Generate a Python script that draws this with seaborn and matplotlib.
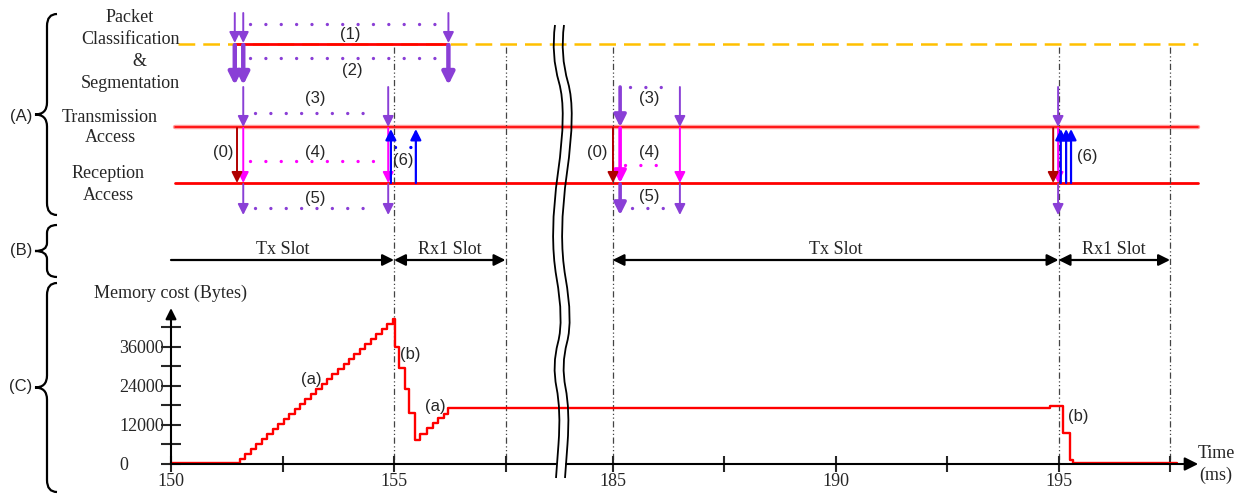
import numpy as np
import pandas as pd
import matplotlib
matplotlib.use("Agg")
import matplotlib.pyplot as plt
from matplotlib.path import Path
from matplotlib.patches import PathPatch
import seaborn as sns

# ---- values ----
# memory cost staircase (ms, bytes), left and right of the time-axis break
mem_left_ms = [150.00, 151.55, 151.67, 151.79, 151.91, 152.04, 152.16, 152.28, 152.40,
               152.53, 152.65, 152.77, 152.89, 153.01, 153.14, 153.26, 153.38, 153.50,
               153.62, 153.75, 153.87, 153.99, 154.11, 154.23, 154.36, 154.48, 154.60,
               154.72, 154.85, 154.97, 155.02, 155.12, 155.25, 155.34, 155.46, 155.58,
               155.73, 155.87, 155.99, 156.11, 156.20, 158.65]
mem_left_bytes = [400, 1500, 3100, 4600, 6100, 7700, 9200, 10700, 12300,
                  13800, 15300, 16900, 18400, 19900, 21500, 23000, 24500, 26100,
                  27600, 29200, 30700, 32200, 33700, 35300, 36800, 38300, 39900,
                  41400, 42900, 44400, 36000, 29300, 22900, 15500, 7400, 9200,
                  10900, 12500, 14000, 15300, 17300, 17300]
mem_right_ms = [183.75, 194.80, 195.10, 195.25, 195.33, 197.65]
mem_right_bytes = [17300, 17900, 9400, 1200, 300, 300]

# event times (ms)
pcs_in = [151.43, 151.62, 156.22]          # packets entering classification
tx_req = [151.62, 154.87, 185.17, 186.51, 194.99]
tx_start = [151.48, 185.01, 194.88]        # (0)
rx_ack = [154.93, 155.49, 195.05, 195.17, 195.28]  # (6)

slot_names = ["Tx Slot", "Rx1 Slot", "Tx Slot", "Rx1 Slot"]
slot_start = [150.0, 155.0, 185.0, 195.0]
slot_end = [155.0, 157.5, 195.0, 197.5]

xtick_ms = [150, 152.5, 155, 157.5, 185, 187.5, 190, 192.5, 195, 197.5]
xtick_labels = ["150", "", "155", "", "185", "", "190", "", "195", ""]
ytick_vals = [0, 6000, 12000, 18000, 24000, 30000, 36000, 42000]
ytick_labels = ["0", "", "12000", "", "24000", "", "36000", ""]

# ---- layout ----
PX_MS = 44.6          # pixels per ms
X0 = 171              # pixel of 150 ms
HIDDEN = 175.1        # ms skipped by the break
GAP = (8.63, 8.86)    # axis gap (axis units)
BYTES_PX = 306.6
Y_ZERO = 464

PURPLE = "#8A3FD6"
MAGENTA = "#FF00FF"
DARKRED = "#B00000"
BLUE = "#0000FF"
RED = "#FF0000"
ORANGE = "#FFC000"
SANS = "Liberation Sans"


def to_u(t):
    t = np.asarray(t, dtype=float)
    return np.where(t < 170, t - 150.0, t - HIDDEN)


def varrow(ax, t, y0, y1, color, lw=1.4, ms=16):
    x = float(to_u(t))
    ax.annotate("", xy=(x, y1), xytext=(x, y0),
                arrowprops=dict(arrowstyle="-|>", color=color, lw=lw,
                                mutation_scale=ms, shrinkA=0, shrinkB=0))


def dots(ax, t0, t1, y, color):
    ax.plot(to_u([t0, t1]), [y, y], color=color, lw=2.4,
            linestyle=(0, (0.01, 4.6)), dash_capstyle="round")


def brace(ax, top, bottom, r):
    xt, xm, xe = 35, 47, 57
    mid = (top + bottom) / 2
    verts = [(xe, top), (xm, top), (xm, top + r), (xm, mid - r),
             (xm, mid), (xt, mid), (xm, mid), (xm, mid + r),
             (xm, bottom - r), (xm, bottom), (xe, bottom)]
    codes = [Path.MOVETO, Path.CURVE3, Path.CURVE3, Path.LINETO,
             Path.CURVE3, Path.CURVE3, Path.CURVE3, Path.CURVE3,
             Path.LINETO, Path.CURVE3, Path.CURVE3]
    ax.add_patch(PathPatch(Path(verts, codes), fill=False, lw=1.6, color="black"))


def wavy(ax, pts):
    verts = [pts[0]]
    codes = [Path.MOVETO]
    for i in range(1, len(pts) - 1):
        nxt = ((pts[i][0] + pts[i + 1][0]) / 2, (pts[i][1] + pts[i + 1][1]) / 2)
        verts += [pts[i], nxt]
        codes += [Path.CURVE3, Path.CURVE3]
    verts.append(pts[-1])
    codes.append(Path.LINETO)
    ax.add_patch(PathPatch(Path(verts, codes), fill=False, lw=1.3, color="black"))


sns.set_style("ticks")
plt.rcParams["font.family"] = ["Liberation Serif", "DejaVu Serif"]

fig = plt.figure(figsize=(12.44, 4.96), dpi=100)
xlim = (-X0 / PX_MS, (1244 - X0) / PX_MS)

top = fig.add_axes([0, 0, 1, 1])
top.set_xlim(*xlim)
top.set_ylim(496, 0)
top.axis("off")

mem = fig.add_axes([0, 0, 1, 1])
mem.patch.set_visible(False)
deco = fig.add_axes([0, 0, 1, 1])
deco.set_xlim(0, 1244)
deco.set_ylim(496, 0)
deco.axis("off")

# ---- (A) schematic ----
top.plot([0.16, 23.03], [44, 44], color=ORANGE, lw=1.8, linestyle=(0, (6.7, 3.2)))
top.plot(to_u([pcs_in[0], pcs_in[2]]), [44, 44], color=RED, lw=2)
top.plot([0.1, 23.03], [127, 127], color="#ff9a9a", lw=3.2)
top.plot([0.1, 23.03], [127, 127], color=RED, lw=1.2)
top.plot([0.1, 23.03], [183, 183], color=RED, lw=2)

for t in pcs_in:
    varrow(top, t, 13, 43, PURPLE, lw=1.4, ms=16)
    varrow(top, t, 45, 85, PURPLE, lw=3.2, ms=18)
for t in tx_req:
    thick = t == tx_req[2]
    lw = 2.6 if thick else 1.4
    varrow(top, t, 87, 127, PURPLE, lw=lw, ms=18 if thick else 16)
    varrow(top, t, 128, 183, MAGENTA, lw=lw, ms=18 if thick else 16)
    varrow(top, t, 184, 215, PURPLE, lw=lw, ms=18 if thick else 16)
for t in tx_start:
    varrow(top, t, 128, 183, DARKRED, lw=1.4, ms=16)
for t in rx_ack:
    varrow(top, t, 183, 129, BLUE, lw=1.6, ms=16)

dots(top, pcs_in[1] + 0.16, pcs_in[2] - 0.19, 24, PURPLE)
dots(top, pcs_in[1] + 0.16, pcs_in[2] - 0.19, 58, PURPLE)
dots(top, tx_req[0] + 0.27, tx_req[1] - 0.45, 113, PURPLE)
dots(top, tx_req[0] + 0.16, tx_req[1] - 0.30, 161, MAGENTA)
dots(top, tx_req[0] + 0.27, tx_req[1] - 0.40, 208, PURPLE)
dots(top, rx_ack[0] + 0.10, rx_ack[1] - 0.10, 147, BLUE)
dots(top, tx_req[2] + 0.22, tx_req[3] - 0.34, 87, PURPLE)
dots(top, tx_req[2] + 0.12, tx_req[3] - 0.22, 165, MAGENTA)
dots(top, tx_req[2] + 0.27, tx_req[3] - 0.34, 208, PURPLE)

step_labels = [("(1)", 154.01, 35), ("(2)", 154.06, 70), ("(3)", 153.23, 99),
               ("(0)", 151.17, 152), ("(4)", 153.23, 152), ("(6)", 155.20, 160),
               ("(5)", 153.23, 198), ("(3)", 185.82, 99), ("(0)", 184.65, 153),
               ("(4)", 185.82, 153), ("(5)", 185.82, 196), ("(6)", 195.64, 157)]
for txt, t, y in step_labels:
    top.text(float(to_u(t)), y, txt, family=SANS, fontsize=12, ha="center", va="center")

# ---- (B) slots ----
for name, a, b in zip(slot_names, slot_start, slot_end):
    style = "-|>" if a == 150.0 else "<|-|>"
    top.annotate("", xy=(float(to_u(b)), 260), xytext=(float(to_u(a)), 260),
                 arrowprops=dict(arrowstyle=style, color="black", lw=1.6,
                                 mutation_scale=17, shrinkA=0, shrinkB=0))
    top.text(float(to_u((a + b) / 2)), 249, name, fontsize=13, ha="center", va="center")

top.vlines(to_u([155, 157.5, 185, 195, 197.5]), 47, 464, color="#444444", lw=0.9,
           linestyle=(0, (5, 2, 1, 2, 1, 2)))

# ---- (C) memory cost ----
mem_df = pd.DataFrame({"ms": mem_left_ms + mem_right_ms,
                       "bytes": mem_left_bytes + mem_right_bytes})
mem_df["u"] = to_u(mem_df["ms"])
sns.lineplot(data=mem_df, x="u", y="bytes", drawstyle="steps-post", estimator=None,
             sort=False, color=RED, linewidth=1.7, ax=mem)
mem.set_xlim(*xlim)
mem.set_ylim(-(496 - Y_ZERO) * BYTES_PX, Y_ZERO * BYTES_PX)
mem.set_xlabel("")
mem.set_ylabel("")
for s in mem.spines.values():
    s.set_visible(False)
mem.spines["left"].set_position(("data", 0))
mem.spines["bottom"].set_position(("data", 0))
mem.tick_params(axis="y", left=True, direction="inout", length=13.7, width=1.5,
                pad=30.6, labelsize=13)
mem.tick_params(axis="x", bottom=True, direction="inout", length=11.5, width=1.5,
                pad=1, labelsize=13)
mem.set_xticks(to_u(xtick_ms))
mem.set_xticklabels(xtick_labels)
mem.set_yticks(ytick_vals)
mem.set_yticklabels(ytick_labels, ha="left")

mem.plot([0, GAP[0]], [0, 0], color="black", lw=1.5)
mem.annotate("", xy=(23.03, 0), xytext=(GAP[1], 0),
             arrowprops=dict(arrowstyle="-|>", color="black", lw=1.5,
                             mutation_scale=20, shrinkA=0, shrinkB=0))
mem.annotate("", xy=(0, 47800), xytext=(0, 0),
             arrowprops=dict(arrowstyle="-|>", color="black", lw=1.5,
                             mutation_scale=16, shrinkA=0, shrinkB=0))

for txt, t, b in [("(a)", 153.15, 25970), ("(b)", 155.36, 33700),
                  ("(a)", 155.92, 17570), ("(b)", 195.44, 14500)]:
    mem.text(float(to_u(t)), b, txt, family=SANS, fontsize=12, ha="center", va="center")

# ---- decorations in pixel space ----
brace(deco, 14, 215, 12)
brace(deco, 225, 277, 8)
brace(deco, 283, 492, 12)
for txt, y in [("(A)", 116), ("(B)", 251), ("(C)", 386)]:
    deco.text(21, y, txt, family=SANS, fontsize=12, ha="center", va="center")

for txt, x, y in [("Packet", 130, 17), ("Classification", 130, 39), ("&", 139, 62),
                  ("Segmentation", 130, 83), ("Transmission", 110, 117),
                  ("Access", 110, 138), ("Reception", 108, 173), ("Access", 108, 195)]:
    deco.text(x, y, txt, fontsize=13, ha="center", va="center")

deco.text(170, 293, "Memory cost (Bytes)", fontsize=13, ha="center", va="center")
deco.text(1216, 453, "Time", fontsize=13, ha="center", va="center")
deco.text(1216, 475, "(ms)", fontsize=13, ha="center", va="center")

wave = [(555, 25), (551, 55), (567, 110), (549, 235), (564, 320), (552, 365),
        (561, 410), (556, 478)]
wavy(deco, wave)
wavy(deco, [(x + 9, y) for x, y in wave])

fig.savefig("out.png", dpi=100)
